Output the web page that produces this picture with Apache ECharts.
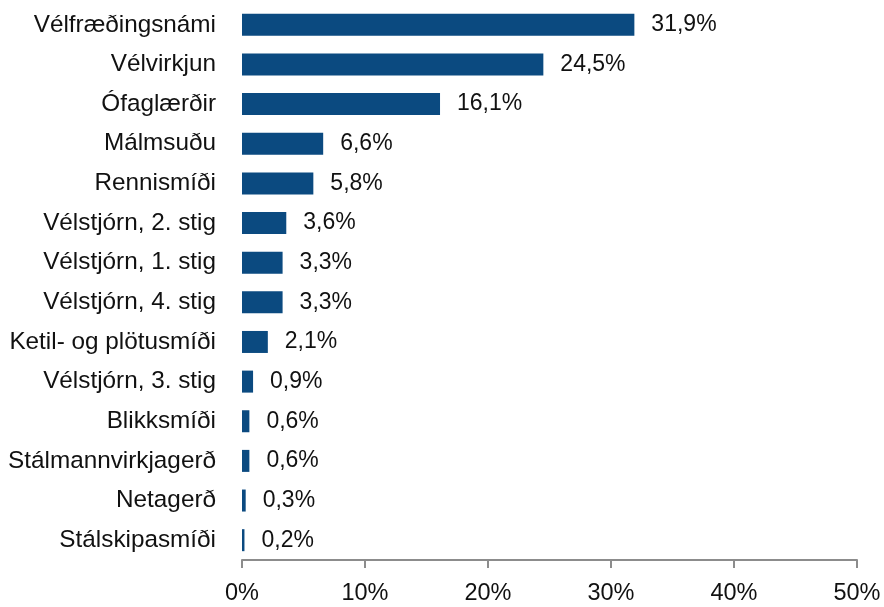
<!DOCTYPE html>
<html>
<head>
<meta charset="utf-8">
<script src="https://cdn.jsdelivr.net/npm/echarts@6/dist/echarts.min.js"></script>
<style>
  html, body { margin: 0; padding: 0; background: #fff; }
  #chart { width: 884px; height: 607px; }
</style>
</head>
<body>
<div id="chart"></div>
<script>
// flokkar, efst til neðst
const categories = [
  "Vélfræðingsnámi", "Vélvirkjun", "Ófaglærðir", "Málmsuðu", "Rennismíði",
  "Vélstjórn, 2. stig", "Vélstjórn, 1. stig", "Vélstjórn, 4. stig",
  "Ketil- og plötusmíði", "Vélstjórn, 3. stig", "Blikksmíði",
  "Stálmannvirkjagerð", "Netagerð", "Stálskipasmíði"
];
const values = [31.9, 24.5, 16.1, 6.6, 5.8, 3.6, 3.3, 3.3, 2.1, 0.9, 0.6, 0.6, 0.3, 0.2];
const xTicks = [0, 10, 20, 30, 40, 50];

const fmt = v => v.toFixed(1).replace(".", ",") + "%";

const chart = echarts.init(document.getElementById("chart"));
chart.setOption({
  animation: false,
  textStyle: { fontFamily: "Liberation Sans, Arial, sans-serif" },
  grid: { left: 242, right: 27, top: 5, bottom: 47 },
  xAxis: {
    type: "value",
    min: xTicks[0],
    max: xTicks[xTicks.length - 1],
    interval: 10,
    axisLine: { show: true, lineStyle: { color: "#8c8c8c", width: 2 } },
    axisTick: { show: true, length: 8, lineStyle: { color: "#8c8c8c", width: 2 } },
    axisLabel: {
      color: "#111",
      fontSize: 23.5,
      margin: 22,
      formatter: v => v + "%"
    },
    splitLine: { show: false }
  },
  yAxis: {
    type: "category",
    inverse: true,
    data: categories,
    axisLine: { show: false },
    axisTick: { show: false },
    axisLabel: { color: "#111", fontSize: 24.3, margin: 26 }
  },
  series: [{
    type: "bar",
    data: values,
    barWidth: 22,
    itemStyle: { color: "#0b4a80" },
    label: {
      show: true,
      position: "right",
      distance: 17,
      color: "#111",
      fontSize: 23,
      formatter: p => fmt(p.value)
    }
  }]
});
</script>
</body>
</html>
